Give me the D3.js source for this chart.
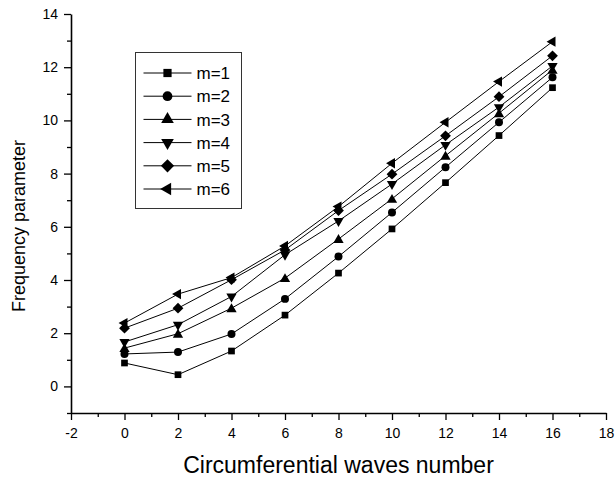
<!DOCTYPE html>
<html>
<head>
<meta charset="utf-8">
<script src="https://cdn.jsdelivr.net/npm/d3@7"></script>
<style>
  body { margin: 0; background: #fff; }
  svg { font-family: "Liberation Sans", Arial, sans-serif; }
  .axis path, .axis line { stroke: #000; }
  .axis text { font-size: 14px; fill: #000; }
</style>
</head>
<body>
<div id="chart"></div>
<script>
// data
var waves = [0, 2, 4, 6, 8, 10, 12, 14, 16];
var seriesNames = ["m=1", "m=2", "m=3", "m=4", "m=5", "m=6"];
var m1 = [0.88, 0.44, 1.33, 2.68, 4.26, 5.92, 7.66, 9.43, 11.23];
var m2 = [1.22, 1.29, 1.97, 3.29, 4.88, 6.54, 8.24, 9.93, 11.62];
var m3 = [1.44, 1.98, 2.94, 4.07, 5.54, 7.05, 8.67, 10.27, 11.9];
var m4 = [1.67, 2.32, 3.38, 4.95, 6.22, 7.61, 9.08, 10.5, 12.05];
var m5 = [2.19, 2.94, 4.01, 5.13, 6.61, 7.98, 9.42, 10.89, 12.43];
var m6 = [2.38, 3.47, 4.09, 5.28, 6.76, 8.39, 9.93, 11.46, 12.96];
var xTicks = [-2, 0, 2, 4, 6, 8, 10, 12, 14, 16, 18];
var yTicks = [0, 2, 4, 6, 8, 10, 12, 14];

var allSeries = [m1, m2, m3, m4, m5, m6];

//setup spacing size
var svg_w = 615;
var svg_h = 480;
var margin = {top: 14, right: 9, bottom: 67, left: 71};
var width = svg_w - margin.left - margin.right;
var height = svg_h - margin.top - margin.bottom;

var svg = d3.select("#chart")
    .append("svg")
    .attr("width", svg_w)
    .attr("height", svg_h);

var g = svg.append("g")
    .attr("transform", "translate(" + margin.left + "," + margin.top + ")");

var xScale = d3.scaleLinear().domain([-2, 18]).range([0, width]);
var yScale = d3.scaleLinear().domain([-1, 14]).range([height, 0]);

// plain hyphen for negatives, like the original
var fmt = function(d) { return String(d); };

// minor ticks
g.append("g")
    .attr("class", "axis")
    .attr("transform", "translate(0," + height + ")")
    .call(d3.axisBottom(xScale).tickValues(d3.range(-1, 18, 2)).tickSize(4).tickSizeOuter(0).tickFormat(""))
    .call(function(a) { a.select(".domain").remove(); });
g.append("g")
    .attr("class", "axis")
    .call(d3.axisLeft(yScale).tickValues(d3.range(-1, 14, 2)).tickSize(4).tickSizeOuter(0).tickFormat(""))
    .call(function(a) { a.select(".domain").remove(); });

// major ticks + labels
g.append("g")
    .attr("class", "axis")
    .attr("transform", "translate(0," + height + ")")
    .call(d3.axisBottom(xScale).tickValues(xTicks).tickSize(7).tickSizeOuter(0).tickPadding(8).tickFormat(fmt))
    .call(function(a) { a.select(".domain").attr("stroke-width", 1.6); });
g.append("g")
    .attr("class", "axis")
    .call(d3.axisLeft(yScale).tickValues(yTicks).tickSize(7).tickSizeOuter(0).tickPadding(6).tickFormat(fmt))
    .call(function(a) { a.select(".domain").attr("stroke-width", 1.6); });

g.selectAll(".axis .tick line").attr("stroke-width", 1.3);

// marker shapes
var symbols = [
    {type: d3.symbolSquare, size: 45, rot: 0},
    {type: d3.symbolCircle, size: 50, rot: 0},
    {type: d3.symbolTriangle, size: 46, rot: 0},
    {type: d3.symbolTriangle, size: 46, rot: 180},
    {type: d3.symbolSquare, size: 58, rot: 45},
    {type: d3.symbolTriangle, size: 46, rot: -90}
];

var line = d3.line()
    .x(function(d, i) { return xScale(waves[i]); })
    .y(function(d) { return yScale(d); });

allSeries.forEach(function(s, k) {
    g.append("path")
        .datum(s)
        .attr("fill", "none")
        .attr("stroke", "#000")
        .attr("stroke-width", 1)
        .attr("d", line);
});

allSeries.forEach(function(s, k) {
    var sym = symbols[k];
    g.selectAll(".pt" + k)
        .data(s)
        .enter()
        .append("path")
        .attr("class", "pt" + k)
        .attr("d", d3.symbol().type(sym.type).size(sym.size))
        .attr("transform", function(d, i) {
            var ty = sym.rot === 0 && sym.type === d3.symbolTriangle ? 1 : 0;
            return "translate(" + xScale(waves[i]) + "," + (yScale(d) + ty) + ") rotate(" + sym.rot + ")";
        })
        .attr("fill", "#000");
});

//add legend
var legendBox = svg.append("g").attr("transform", "translate(135.5,52.5)");
legendBox.append("rect")
    .attr("width", 106)
    .attr("height", 156)
    .attr("fill", "#fff")
    .attr("stroke", "#333")
    .attr("stroke-width", 1);

var legend = legendBox.selectAll(".legend")
    .data(seriesNames)
    .enter()
    .append("g")
    .attr("class", "legend")
    .attr("transform", function(d, i) { return "translate(0," + (20.5 + i * 23.2) + ")"; });

legend.append("line")
    .attr("x1", 8)
    .attr("x2", 56)
    .attr("stroke", "#000")
    .attr("stroke-width", 1);

legend.append("path")
    .attr("d", function(d, i) { return d3.symbol().type(symbols[i].type).size(symbols[i].size * 1.5)(); })
    .attr("transform", function(d, i) { return "translate(32,0) rotate(" + symbols[i].rot + ")"; })
    .attr("fill", "#000");

legend.append("text")
    .text(function(d) { return d; })
    .attr("x", 61)
    .attr("dy", "0.36em")
    .attr("font-size", 17);

//axis titles
svg.append("text")
    .attr("x", margin.left + width / 2)
    .attr("y", 473)
    .attr("text-anchor", "middle")
    .attr("font-size", 23)
    .text("Circumferential waves number");

svg.append("text")
    .attr("transform", "translate(25,226) rotate(-90)")
    .attr("text-anchor", "middle")
    .attr("font-size", 18)
    .text("Frequency parameter");
</script>
</body>
</html>
